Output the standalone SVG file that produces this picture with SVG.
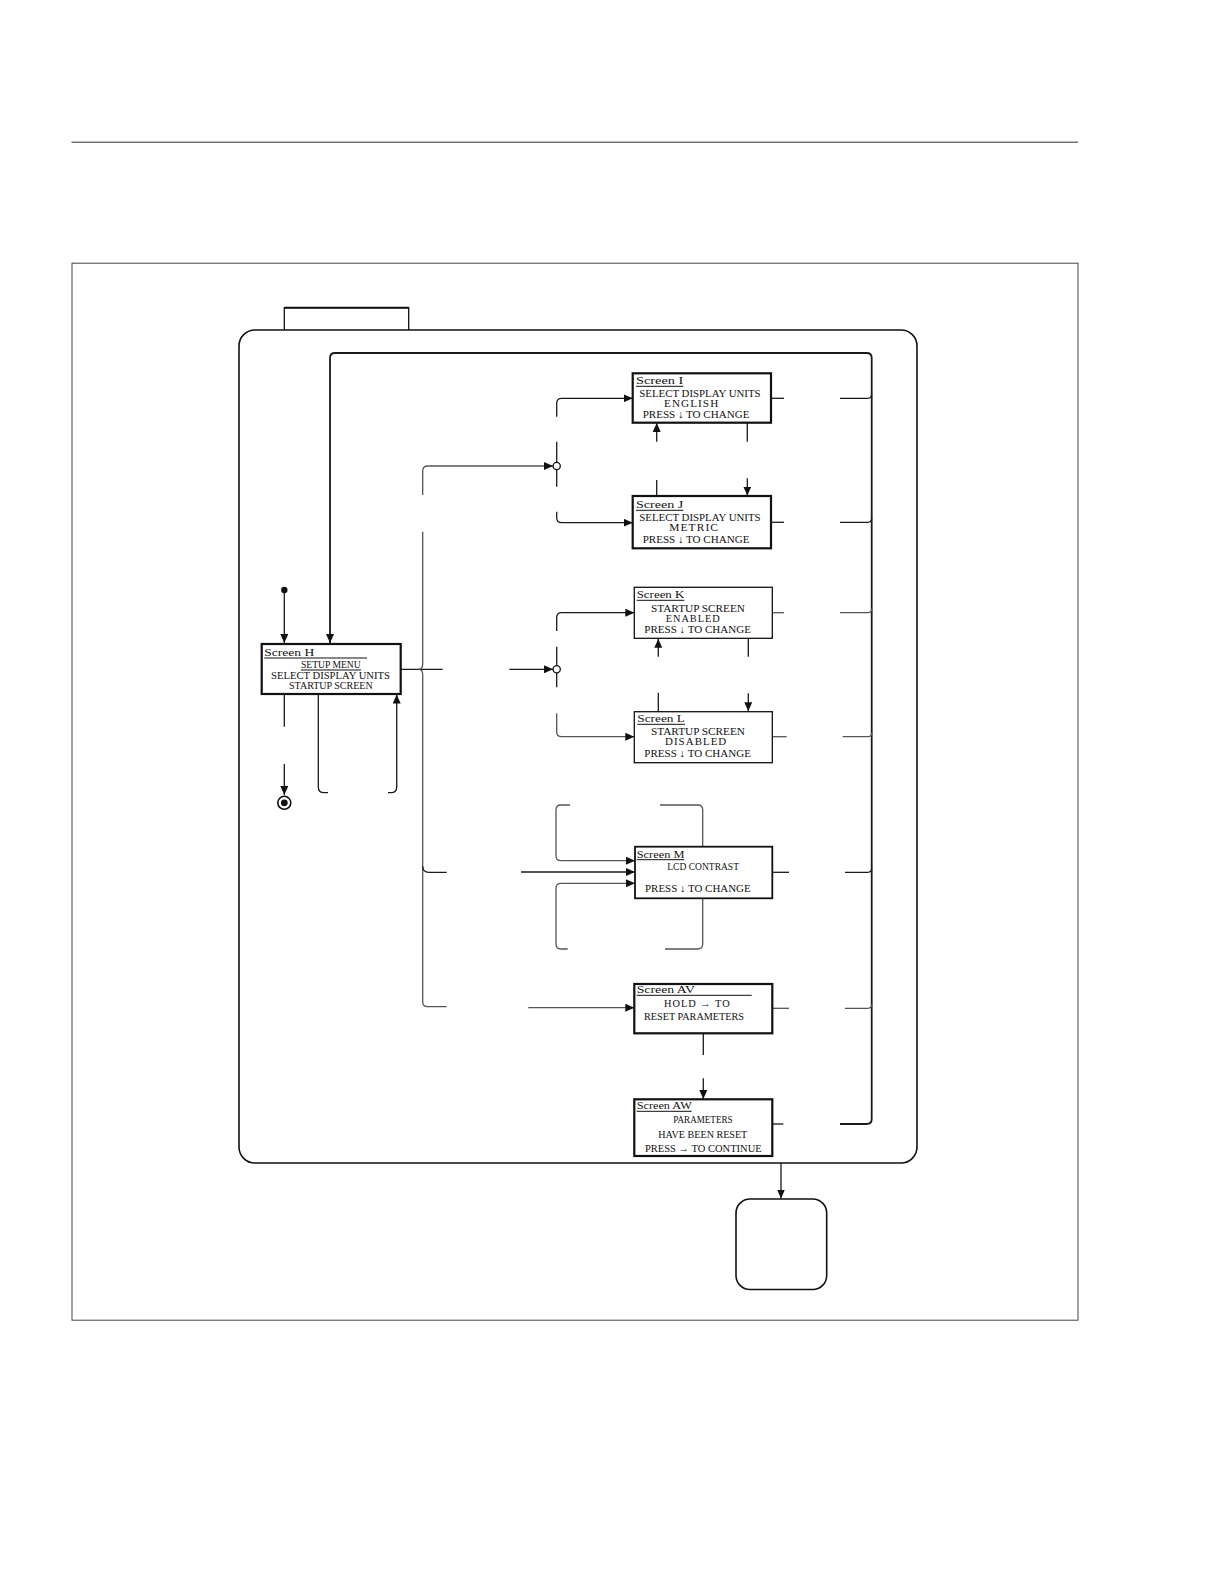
<svg xmlns="http://www.w3.org/2000/svg" width="1221" height="1581" viewBox="0 0 1221 1581">
<defs>
<marker id="ah" markerUnits="userSpaceOnUse" markerWidth="10" markerHeight="8" refX="9" refY="4" orient="auto">
<path d="M0,0 L9,4 L0,8 z" fill="#111"/>
</marker>
<style>
.ln{fill:none;stroke:#1a1a1a;stroke-width:1.3}
.lg{fill:none;stroke:#555;stroke-width:1.3}
.box{fill:#fff;stroke:#111}
.thick{stroke-width:2.2}
.thin{stroke-width:1.3}
.t{font-family:"Liberation Serif","DejaVu Serif",serif;font-size:10.5px;fill:#111}
.tb{font-family:"Liberation Serif","DejaVu Serif",serif;font-size:10.5px;fill:#111;letter-spacing:1px}
.ul{stroke:#111;stroke-width:1}
</style>
</defs>
<rect width="1221" height="1581" fill="#fff"/>
<line x1="71.5" y1="142.2" x2="1078" y2="142.2" stroke="#333" stroke-width="1"/>
<rect x="72" y="263.2" width="1006" height="1057" fill="none" stroke="#444" stroke-width="1"/>

<g id="container">
<path d="M284.3,330 V307.7 H408.7 V330" fill="none" stroke="#111" stroke-width="1.3"/>
<line x1="284.3" y1="307.7" x2="408.7" y2="307.7" stroke="#111" stroke-width="2"/>
<rect x="239" y="330" width="678" height="833" rx="16" fill="none" stroke="#111" stroke-width="1.6"/>
</g>

<g id="connectors">
<path class="ln" style="stroke-width:1.8" marker-end="url(#ah)" d="M840,1124 H866.7 Q871.7,1124 871.7,1119 V358 Q871.7,353 866.7,353 H335 Q330,353 330,358 V643"/>
<path class="ln" d="M840,398.3 H867.7 Q871.7,398.3 871.7,394.3"/>
<path class="ln" d="M840,522.3 H867.7 Q871.7,522.3 871.7,518.3"/>
<path class="lg" d="M840,612.7 H867.7 Q871.7,612.7 871.7,608.7"/>
<path class="lg" d="M842.7,736.7 H867.7 Q871.7,736.7 871.7,732.7"/>
<path class="ln" d="M845,872.3 H867.7 Q871.7,872.3 871.7,868.3"/>
<path class="lg" d="M845,1008.3 H867.7 Q871.7,1008.3 871.7,1004.3"/>
<path class="ln" d="M771,398.3 H784"/>
<path class="ln" d="M771,522.3 H784"/>
<path class="lg" d="M772.3,612.7 H784"/>
<path class="lg" d="M772.3,736.7 H786.7"/>
<path class="ln" d="M772.3,872.3 H789"/>
<path class="lg" d="M772.3,1008.3 H789"/>
<path class="ln" d="M772.3,1124 H783.3"/>

<circle cx="284.3" cy="590" r="3.2" fill="#111"/>
<path class="ln" marker-end="url(#ah)" d="M284.3,593 V643"/>
<path class="ln" d="M284.3,694 V726.7"/>
<path class="ln" marker-end="url(#ah)" d="M284.3,764 V795"/>
<circle cx="284.3" cy="802.8" r="6.5" fill="#fff" stroke="#111" stroke-width="1.6"/>
<circle cx="284.3" cy="802.8" r="3.4" fill="#111"/>

<path class="ln" d="M318.3,694 V787 Q318.3,792.7 324,792.7 H328"/>
<path class="ln" marker-end="url(#ah)" d="M388,792.7 H391 Q396.7,792.7 396.7,787 V694.5"/>

<path class="ln" d="M400.7,669.3 H442.7"/>
<path class="lg" marker-end="url(#ah)" d="M422.7,495 V471 Q422.7,466 427.7,466 H553"/>
<path class="lg" d="M422.7,531.7 V664 Q422.7,669.3 418.7,669.3 Q422.7,669.3 422.7,674.6 V1001.7 Q422.7,1006.7 427.7,1006.7 H446.7"/>
<path class="ln" d="M422.7,866.3 Q422.7,872.3 428.7,872.3 H446.7"/>
<path class="ln" marker-end="url(#ah)" d="M509.3,669.3 H553"/>

<path class="ln" d="M556.7,441.7 V486.7"/>
<circle cx="556.7" cy="466" r="3.6" fill="#fff" stroke="#111" stroke-width="1.3"/>
<path class="ln" marker-end="url(#ah)" d="M556.7,416.7 V403.3 Q556.7,398.3 561.7,398.3 H632.7"/>
<path class="ln" marker-end="url(#ah)" d="M556.7,511.7 V517.7 Q556.7,522.7 561.7,522.7 H632.7"/>

<path class="ln" d="M556.7,646.7 V687.3"/>
<circle cx="556.7" cy="669.3" r="3.6" fill="#fff" stroke="#111" stroke-width="1.3"/>
<path class="ln" marker-end="url(#ah)" d="M556.7,631 V617.7 Q556.7,612.7 561.7,612.7 H634.3"/>
<path class="lg" marker-end="url(#ah)" d="M556.7,713.3 V731.7 Q556.7,736.7 561.7,736.7 H634.3"/>

<path class="ln" d="M656.7,496 V480"/>
<path class="ln" marker-end="url(#ah)" d="M656.7,441.7 V423"/>
<path class="ln" d="M747.3,422.7 V441.7"/>
<path class="ln" marker-end="url(#ah)" d="M747.3,478.3 V495.5"/>

<path class="ln" d="M658.3,711.7 V692.7"/>
<path class="ln" marker-end="url(#ah)" d="M658.3,656.7 V638.8"/>
<path class="ln" d="M748.3,638.3 V656.7"/>
<path class="ln" marker-end="url(#ah)" d="M748.3,693.3 V711.2"/>

<path class="lg" d="M702.7,846.7 V810 Q702.7,805 697.7,805 H660"/>
<path class="lg" marker-end="url(#ah)" d="M570,805 H561 Q556,805 556,810 V855.7 Q556,860.7 561,860.7 H635"/>
<path class="lg" d="M702.7,898.3 V944 Q702.7,949 697.7,949 H665"/>
<path class="lg" marker-end="url(#ah)" d="M567.7,949 H561 Q556,949 556,944 V888.3 Q556,883.3 561,883.3 H635"/>
<path class="ln" marker-end="url(#ah)" d="M521,872 H635"/>
<path class="lg" marker-end="url(#ah)" d="M528.3,1007.7 H634.3"/>

<path class="ln" d="M703.3,1033.3 V1055"/>
<path class="ln" marker-end="url(#ah)" d="M703.3,1078.3 V1099"/>

<path class="ln" marker-end="url(#ah)" d="M781,1163 V1198.5"/>
</g>

<g id="screen-h">
<rect class="box thick" x="261.7" y="644" width="139" height="50"/>
<text class="t" x="264.3" y="656" textLength="50" lengthAdjust="spacingAndGlyphs">Screen H</text>
<line class="ul" x1="264.3" y1="658" x2="367" y2="658"/>
<text class="t" x="301" y="668.3" textLength="59.7" lengthAdjust="spacingAndGlyphs">SETUP MENU</text>
<line class="ul" x1="301" y1="670" x2="361" y2="670"/>
<text class="t" x="271" y="679" textLength="119" lengthAdjust="spacingAndGlyphs">SELECT DISPLAY UNITS</text>
<text class="t" x="289" y="689.3" textLength="83.7" lengthAdjust="spacingAndGlyphs">STARTUP SCREEN</text>
</g>

<g id="screen-i">
<rect class="box thick" x="632.7" y="373.3" width="138.3" height="49.4"/>
<text class="t" x="636" y="384.3" textLength="47.3" lengthAdjust="spacingAndGlyphs">Screen I</text>
<line class="ul" x1="636" y1="386.3" x2="683.3" y2="386.3"/>
<text class="t" x="639.3" y="396.7" textLength="121.3" lengthAdjust="spacingAndGlyphs">SELECT DISPLAY UNITS</text>
<text class="tb" x="664" y="406.7" textLength="55.3" lengthAdjust="spacingAndGlyphs">ENGLISH</text>
<text class="t" x="642.7" y="418.3" textLength="106.7" lengthAdjust="spacingAndGlyphs">PRESS ↓ TO CHANGE</text>
</g>

<g id="screen-j">
<rect class="box thick" x="632.7" y="496" width="138.3" height="52.3"/>
<text class="t" x="636" y="508.3" textLength="47.3" lengthAdjust="spacingAndGlyphs">Screen J</text>
<line class="ul" x1="636" y1="510.3" x2="683.3" y2="510.3"/>
<text class="t" x="639.3" y="520.7" textLength="121.3" lengthAdjust="spacingAndGlyphs">SELECT DISPLAY UNITS</text>
<text class="tb" x="669.3" y="530.7" textLength="49.7" lengthAdjust="spacingAndGlyphs">METRIC</text>
<text class="t" x="642.7" y="542.7" textLength="106.7" lengthAdjust="spacingAndGlyphs">PRESS ↓ TO CHANGE</text>
</g>

<g id="screen-k">
<rect class="box thin" x="634.3" y="587.3" width="138" height="51"/>
<text class="t" x="636.7" y="598.3" textLength="47.7" lengthAdjust="spacingAndGlyphs">Screen K</text>
<line class="ul" x1="636.7" y1="600.3" x2="684.3" y2="600.3"/>
<text class="t" x="651" y="611.7" textLength="94" lengthAdjust="spacingAndGlyphs">STARTUP SCREEN</text>
<text class="tb" x="665.7" y="621.7" textLength="55" lengthAdjust="spacingAndGlyphs">ENABLED</text>
<text class="t" x="644.3" y="633.3" textLength="106.7" lengthAdjust="spacingAndGlyphs">PRESS ↓ TO CHANGE</text>
</g>

<g id="screen-l">
<rect class="box thin" x="634.3" y="711.7" width="138" height="51"/>
<text class="t" x="637.3" y="722.3" textLength="47.7" lengthAdjust="spacingAndGlyphs">Screen L</text>
<line class="ul" x1="637.3" y1="724.3" x2="685" y2="724.3"/>
<text class="t" x="651" y="735" textLength="94" lengthAdjust="spacingAndGlyphs">STARTUP SCREEN</text>
<text class="tb" x="665" y="745" textLength="62.3" lengthAdjust="spacingAndGlyphs">DISABLED</text>
<text class="t" x="644.3" y="756.7" textLength="106.7" lengthAdjust="spacingAndGlyphs">PRESS ↓ TO CHANGE</text>
</g>

<g id="screen-m">
<rect class="box" style="stroke-width:1.8" x="635" y="846.7" width="137.3" height="51.6"/>
<text class="t" x="636.7" y="857.7" textLength="47.7" lengthAdjust="spacingAndGlyphs">Screen M</text>
<line class="ul" x1="636.7" y1="859.7" x2="684.3" y2="859.7"/>
<text class="t" x="667.3" y="870" textLength="71.7" lengthAdjust="spacingAndGlyphs">LCD CONTRAST</text>
<text class="t" x="645" y="891.7" textLength="105.7" lengthAdjust="spacingAndGlyphs">PRESS ↓ TO CHANGE</text>
</g>

<g id="screen-av">
<rect class="box thick" x="634.3" y="984" width="138" height="49.3"/>
<text class="t" x="636.7" y="993.3" textLength="58.3" lengthAdjust="spacingAndGlyphs">Screen AV</text>
<line class="ul" x1="636.7" y1="995.3" x2="751.7" y2="995.3"/>
<text class="tb" x="664" y="1006.7" textLength="66.7" lengthAdjust="spacingAndGlyphs">HOLD → TO</text>
<text class="t" x="644" y="1020" textLength="100" lengthAdjust="spacingAndGlyphs">RESET PARAMETERS</text>
</g>

<g id="screen-aw">
<rect class="box thick" x="634.3" y="1099.3" width="138" height="56.7"/>
<text class="t" x="636.7" y="1109.3" textLength="55" lengthAdjust="spacingAndGlyphs">Screen AW</text>
<line class="ul" x1="636.7" y1="1111.3" x2="691.7" y2="1111.3"/>
<text class="t" x="673.3" y="1123.3" textLength="59.3" lengthAdjust="spacingAndGlyphs">PARAMETERS</text>
<text class="t" x="658.3" y="1137.7" textLength="89" lengthAdjust="spacingAndGlyphs">HAVE BEEN RESET</text>
<text class="t" x="645" y="1152.3" textLength="116.7" lengthAdjust="spacingAndGlyphs">PRESS → TO CONTINUE</text>
</g>

<g id="exit-state">
<rect x="736" y="1199" width="90.7" height="90.5" rx="14" fill="#fff" stroke="#111" stroke-width="1.6"/>
</g>
</svg>
